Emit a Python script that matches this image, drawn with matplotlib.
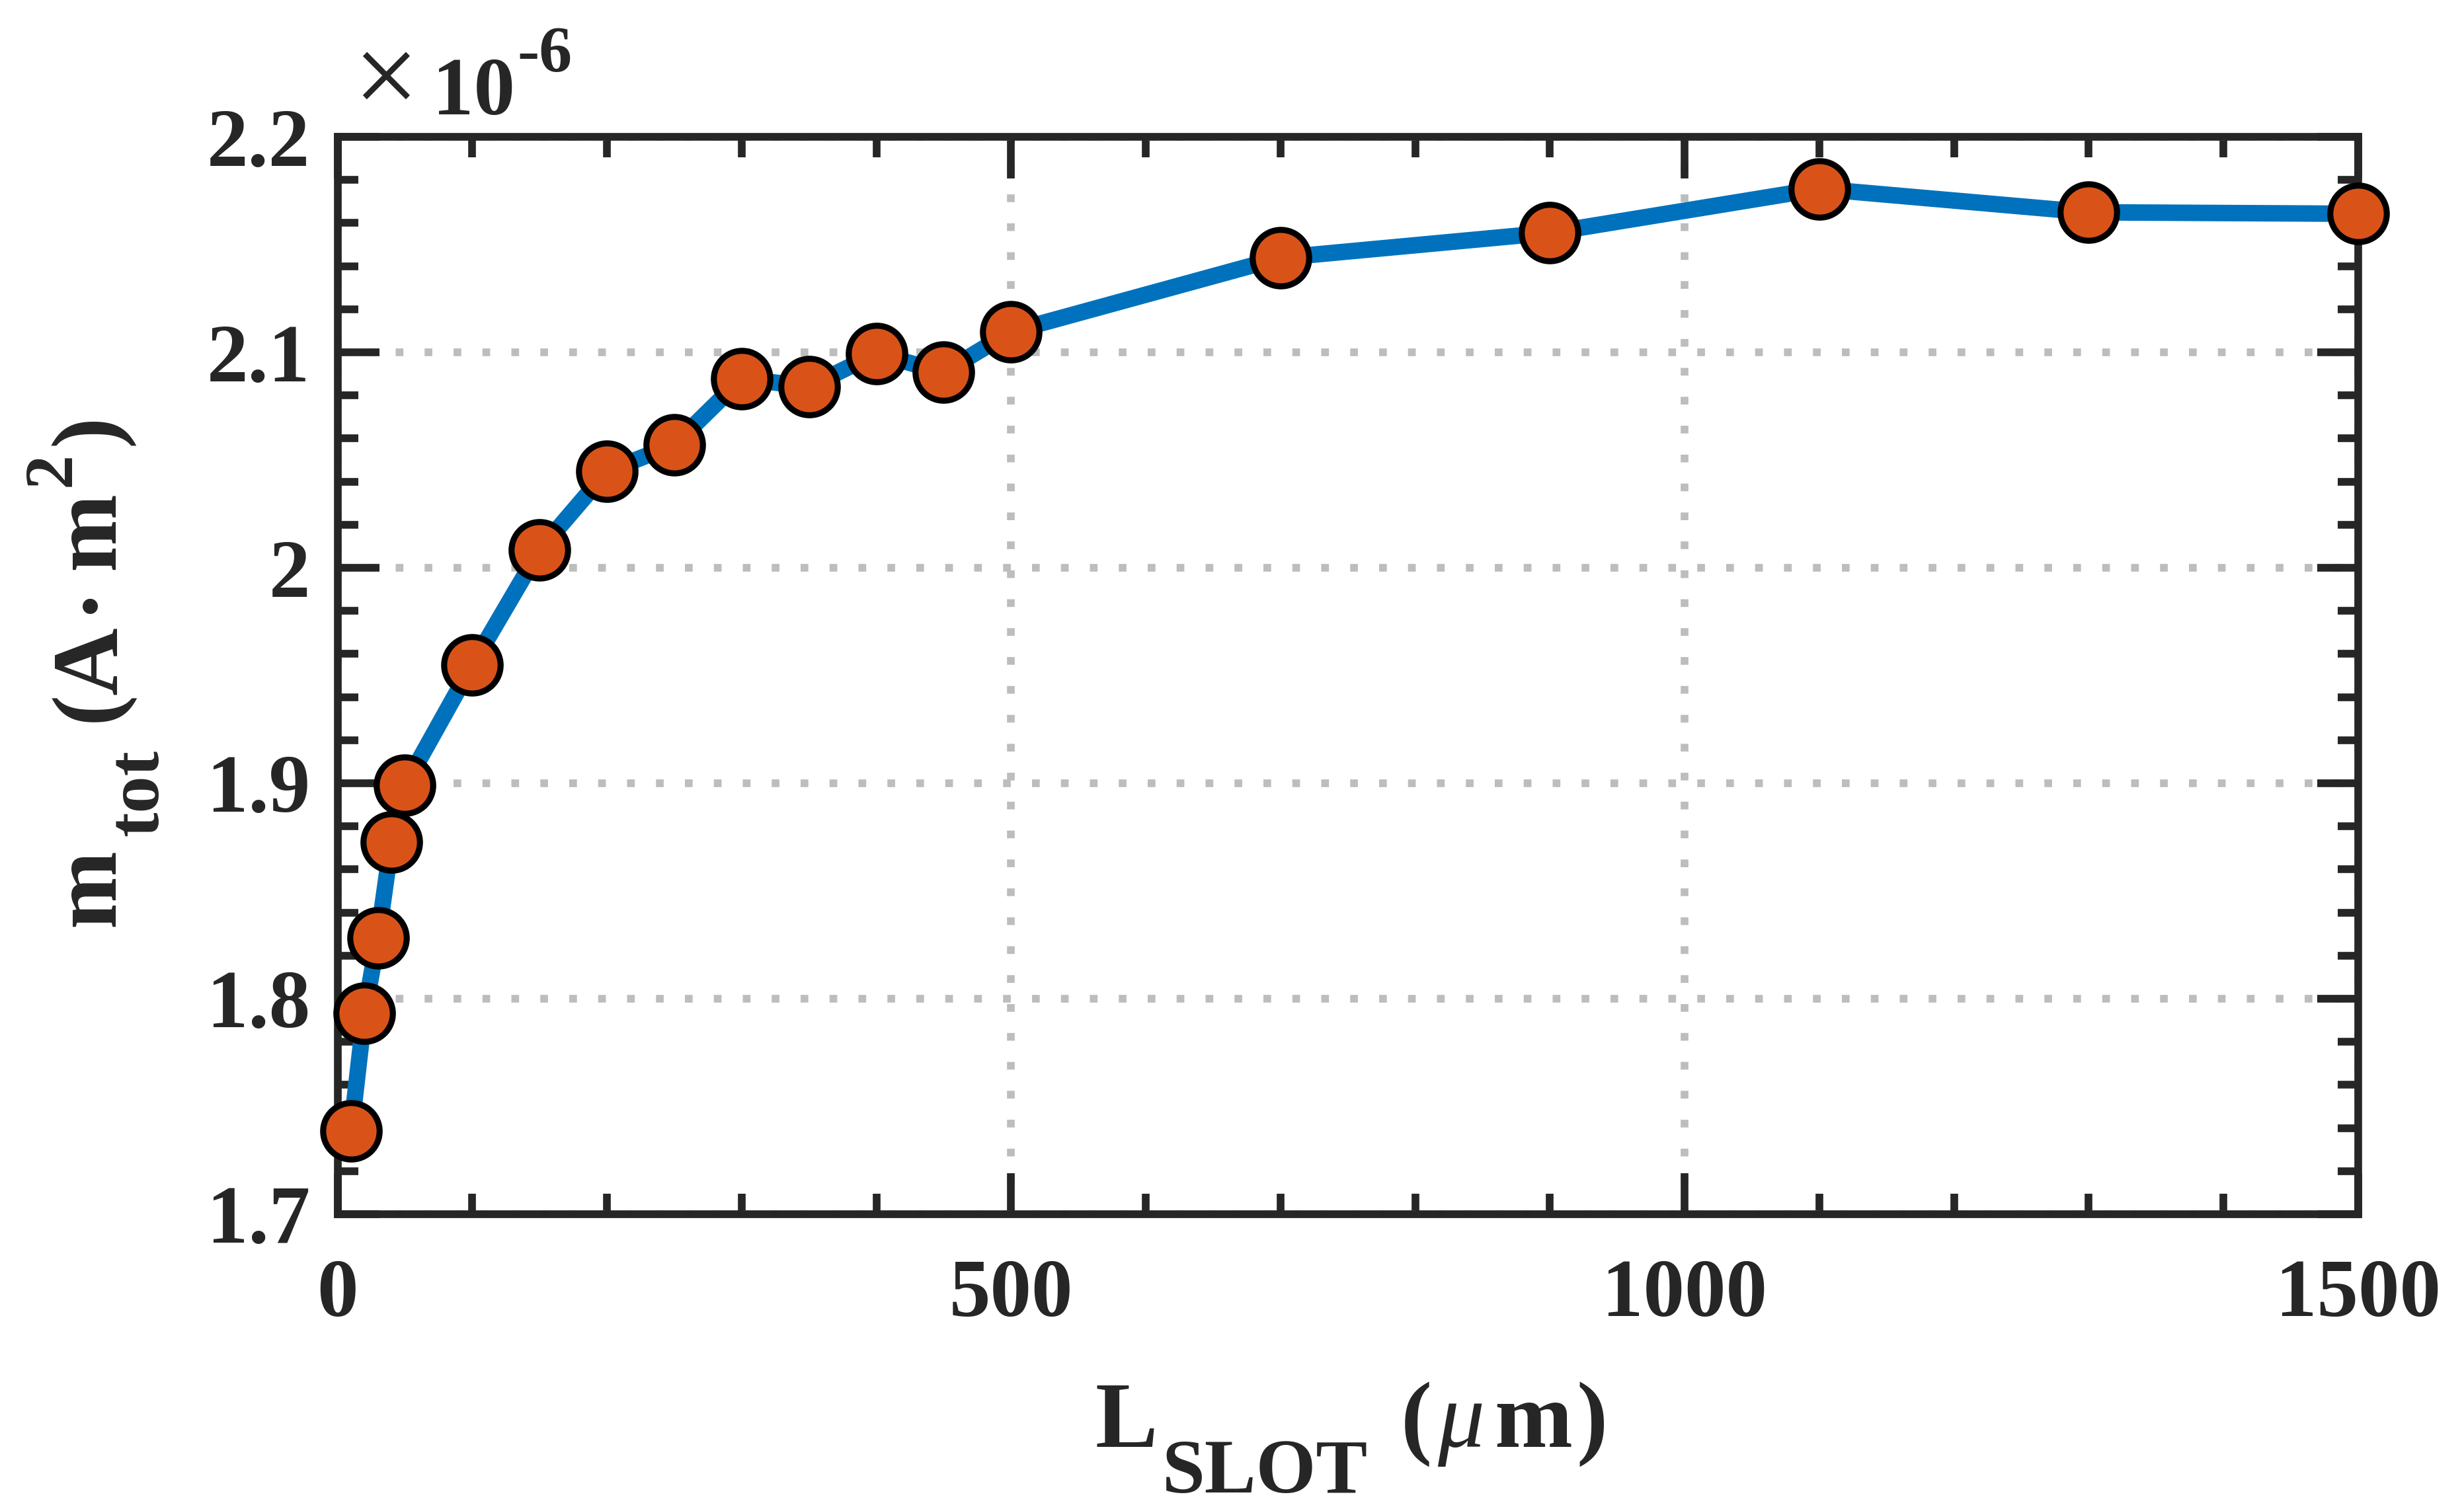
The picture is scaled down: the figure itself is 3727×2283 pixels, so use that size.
import numpy as np
import matplotlib
matplotlib.use("Agg")
import matplotlib.pyplot as plt
from matplotlib.ticker import MultipleLocator, FuncFormatter

plt.rcParams['font.family'] = ['Liberation Serif', 'DejaVu Serif']

# slot length (um) and total moment (x 1e-6 A m^2)
l_slot = [10, 20, 30, 40, 50, 100, 150, 200, 250, 300, 350, 400, 450, 500,
          700, 900, 1100, 1300, 1500]
m_tot = [1.7386, 1.7933, 1.8283, 1.8727, 1.899, 1.955, 2.0083, 2.0448, 2.0571,
         2.0878, 2.0841, 2.0994, 2.0907, 2.1096, 2.1439, 2.1555, 2.1759,
         2.1650, 2.1643]

dark = '#262626'


def chain(fig, pieces, x0, y0, rotation=0):
    """pieces: (text, size, weight, style, shift_pt, gap_pt); shift > 0 raises"""
    prev = None
    for text, size, weight, style, shift, gap in pieces:
        kw = dict(fontsize=size, fontweight=weight, fontstyle=style, color=dark,
                  rotation=rotation, rotation_mode='anchor',
                  ha='left', va='baseline')
        if prev is None:
            if rotation:
                prev = fig.text(x0 - shift / 72 / fig.get_figwidth(), y0, text, **kw)
            else:
                prev = fig.text(x0, y0 + shift / 72 / fig.get_figheight(), text, **kw)
            continue
        if rotation:
            prev = fig.axes[0].annotate(text, xy=(x0, 1),
                                        xycoords=('figure fraction', prev),
                                        xytext=(-shift, gap),
                                        textcoords='offset points', **kw)
        else:
            prev = fig.axes[0].annotate(text, xy=(1, y0),
                                        xycoords=(prev, 'figure fraction'),
                                        xytext=(gap, shift),
                                        textcoords='offset points', **kw)
        prev.set_annotation_clip(False)


fig = plt.figure(figsize=(3727 / 300, 2283 / 300), dpi=300)
ax = fig.add_axes([0.137, 0.1954, 0.820, 0.7139])

ax.plot(l_slot, m_tot, '-', color='#0072BD', lw=6, zorder=3)
ax.plot(l_slot, m_tot, 'o', ms=20.5, mfc='#D95319', mec='black', mew=2.2,
        zorder=4, clip_on=False)

ax.set_xlim(0, 1500)
ax.set_ylim(1.7, 2.2)
ax.xaxis.set_major_locator(MultipleLocator(500))
ax.xaxis.set_minor_locator(MultipleLocator(100))
ax.yaxis.set_major_locator(MultipleLocator(0.1))
ax.yaxis.set_minor_locator(MultipleLocator(0.02))
ax.yaxis.set_major_formatter(FuncFormatter(lambda v, p: '%g' % round(v, 3)))

ax.grid(True, which='major', linestyle=(0, (1, 2.75)), color='#bdbdbd',
        lw=2.8, dash_capstyle='butt')
ax.set_axisbelow(True)

for s in ax.spines.values():
    s.set_linewidth(2.8)
    s.set_color(dark)
ax.tick_params(which='both', direction='in', top=True, right=True,
               colors=dark, width=2.8)
ax.tick_params(which='major', length=15, labelsize=30)
ax.tick_params(which='minor', length=7.5)
ax.tick_params(axis='x', pad=16)
ax.tick_params(axis='y', pad=10)
for lab in ax.get_xticklabels() + ax.get_yticklabels():
    lab.set_fontweight('bold')

# x label: L_SLOT (um)
chain(fig, [('L', 34, 'bold', 'normal', 0, 0),
            ('SLOT', 28, 'bold', 'normal', -16.5, 1.5),
            ('(', 34, 'bold', 'normal', 0, 12),
            ('\u03bc', 34, 'normal', 'italic', 0, 2),
            ('m', 34, 'bold', 'normal', 0, 3.5),
            (')', 34, 'bold', 'normal', 0, 1.5)],
      0.4446, 0.0412)

# y label: m_tot (A.m^2)
chain(fig, [('m', 34, 'bold', 'normal', 0, 0),
            ('tot', 27, 'bold', 'normal', -16, 4.5),
            ('(A', 34, 'bold', 'normal', 0, 10),
            ('\u00b7', 34, 'bold', 'normal', 0, 3.5),
            ('m', 34, 'bold', 'normal', 0, 4.5),
            ('2', 25, 'bold', 'normal', 16, 2),
            (')', 34, 'bold', 'normal', 0, 2.5)],
      0.0461, 0.386, rotation=90)

# exponent label
chain(fig, [('\u00d7', 42, 'normal', 'normal', 0, 0),
            ('10', 30, 'bold', 'normal', 0, 5),
            ('-6', 24, 'bold', 'normal', 15.5, 1)],
      0.1433, 0.9242)

fig.savefig('out.png', dpi=300, facecolor='white')
